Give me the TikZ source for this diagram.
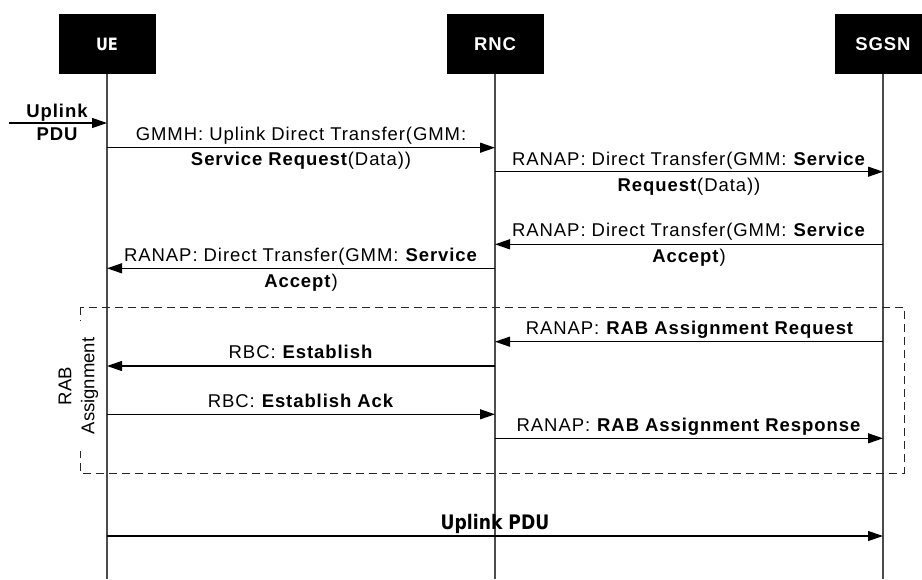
\documentclass[tikz,border=0pt]{standalone}
\usepackage{fontspec}
\setmainfont{Liberation Sans}
\newfontfamily\lab[LetterSpace=5]{Liberation Sans}
\newfontfamily\condf[FakeStretch=0.86]{DejaVu Sans}
\usetikzlibrary{arrows.meta}
\newcommand\twolines[2]{\vtop{\halign{\hfil##\hfil\cr#1\cr#2\cr}}}
\tikzset{
  hdr/.style={fill=black, text=white, minimum width=97pt, minimum height=60pt, inner sep=0pt, font=\lab\bfseries\fontsize{18.5}{22}\selectfont},
  life/.style={draw=black!70, line width=1.3pt},
  msg/.style={draw=black, line width=1.2pt, -{Triangle[length=15pt,width=10pt]}},
  msglabel/.style={font=\lab\fontsize{18.5}{25.5}\selectfont, inner sep=0pt, anchor=base},
  groupbox/.style={draw=black!85, line width=1pt, dash pattern=on 8pt off 5pt}
}
\begin{document}
\begin{tikzpicture}[x=1pt,y=-1pt]
\useasboundingbox (0,0) rectangle (922,579);
\clip (0,0) rectangle (922,579);
% headers
\node[hdr, font=\condf\bfseries\fontsize{17}{20}\selectfont] (ue) at (107,44) {UE};
\node[hdr] (rnc) at (495,44) {RNC};
\node[hdr] (sgsn) at (883,44) {SGSN};
\coordinate (ueend) at (107,579);
\coordinate (rncend) at (495,579);
\coordinate (sgsnend) at (883,579);
\draw[life] (ue.south) -- (ueend);
\draw[life] (rnc.south) -- (rncend);
\draw[life] (sgsn.south) -- (sgsnend);
% group box
\draw[groupbox] (80,307) rectangle (904,473);
\node[rotate=90, fill=white, align=center, inner xsep=17pt, inner ysep=4pt, font=\fontsize{18.5}{23}\selectfont] (grp) at (78.5,386) {RAB\\Assignment};
% incoming uplink PDU
\coordinate (src) at (9,123);
\draw[msg] (src) -- (ue |- src);
\node[font=\lab\bfseries\fontsize{18.5}{23}\selectfont, align=center, inner sep=0pt] (upl) at (57,122) {Uplink\\PDU};
% messages
\draw[msg] (ue |- 0,147.7) -- (rnc |- 0,147.7);
\node[msglabel] (l1) at (301,140) {\twolines{GMMH: Uplink Direct Transfer(GMM:}{\textbf{Service Request}(Data))}};
\draw[msg] (rnc |- 0,171.7) -- (sgsn |- 0,171.7);
\node[msglabel] (l2) at (689,165.5) {\twolines{RANAP: Direct Transfer(GMM: \textbf{Service}}{\textbf{Request}(Data))}};
\draw[msg] (sgsn |- 0,244.3) -- (rnc |- 0,244.3);
\node[msglabel] (l3) at (689,236.7) {\twolines{RANAP: Direct Transfer(GMM: \textbf{Service}}{\textbf{Accept})}};
\draw[msg] (rnc |- 0,268.3) -- (ue |- 0,268.3);
\node[msglabel] (l4) at (301,261.7) {\twolines{RANAP: Direct Transfer(GMM: \textbf{Service}}{\textbf{Accept})}};
\draw[msg] (sgsn |- 0,341.7) -- (rnc |- 0,341.7);
\node[msglabel] (l5) at (690,334.3) {RANAP: \textbf{RAB Assignment Request}};
\draw[msg] (rnc |- 0,366) -- (ue |- 0,366);
\node[msglabel] (l6) at (301,358.3) {RBC: \textbf{Establish}};
\draw[msg] (ue |- 0,414.3) -- (rnc |- 0,414.3);
\node[msglabel] (l7) at (301,407.3) {RBC: \textbf{Establish Ack}};
\draw[msg] (rnc |- 0,438.3) -- (sgsn |- 0,438.3);
\node[msglabel] (l8) at (689,431.7) {RANAP: \textbf{RAB Assignment Response}};
\draw[msg] (ue |- 0,536) -- (sgsn |- 0,536);
\node[inner sep=0pt, anchor=base, font=\condf\bfseries\fontsize{20}{24}\selectfont] (l9) at (495,529) {Uplink PDU};
\end{tikzpicture}
\end{document}
